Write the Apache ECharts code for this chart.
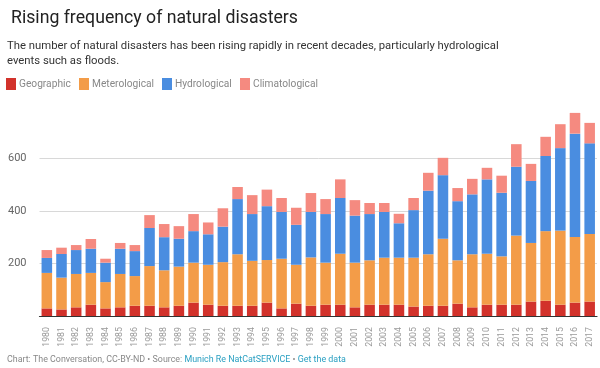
<!DOCTYPE html>
<html><head><meta charset="utf-8">
<script src="https://cdn.jsdelivr.net/npm/echarts@6/dist/echarts.min.js"></script>
<style>html,body{margin:0;padding:0;background:#fff}#c{width:600px;height:368px}</style>
</head><body><div id="c"></div>
<script>
const years = ['1980','1981','1982','1983','1984','1985','1986','1987','1988','1989','1990','1991','1992','1993','1994','1995','1996','1997','1998','1999','2000','2001','2002','2003','2004','2005','2006','2007','2008','2009','2010','2011','2012','2013','2014','2015','2016','2017'];
const geographic = [29,25,33,43,29,33,39,39,33,39,51,43,39,39,39,51,29,47,39,43,43,33,43,43,43,36,39,39,47,33,43,43,43,55,58,43,51,55];
const meteorological = [135,121,127,121,100,127,113,151,141,149,152,152,166,196,171,162,189,148,184,160,194,170,169,179,179,186,196,255,165,202,194,184,263,223,265,282,250,257];
const hydrological = [57,90,91,92,74,96,95,145,126,106,120,116,135,210,178,205,178,152,173,185,212,179,176,174,131,181,242,242,225,228,283,242,262,236,286,314,393,345];
const climatological = [30,24,19,37,15,22,23,49,50,48,65,45,70,46,72,63,53,65,72,57,71,59,42,34,36,46,68,66,50,59,44,65,86,65,73,91,79,78];
const seriesNames = ['Geographic','Meterological','Hydrological','Climatological'];
const seriesColors = ['#d2322b','#f39c48','#4a8de0','#f58a80'];

const chart = echarts.init(document.getElementById('c'));
const FONT = 'Roboto, sans-serif';
function mk(i, data){
  return {name:seriesNames[i], type:'bar', stack:'t', data, barWidth:'72%', itemStyle:{color:seriesColors[i]}, emphasis:{disabled:true}};
}
const legendLeft = [6, 79, 162, 240];
chart.setOption({
  animation:false,
  textStyle:{fontFamily:FONT},
  title:{text:'Rising frequency of natural disasters', left:6, top:5,
    textStyle:{fontSize:17.7, fontWeight:'normal', color:'#222', fontFamily:FONT}},
  legend: seriesNames.map((n,i) => ({left:legendLeft[i], top:78, icon:'rect', itemWidth:10, itemHeight:12, padding:0,
    textStyle:{color:'#888', fontSize:10.2, padding:[0,0,0,-2], fontFamily:FONT}, data:[n]})),
  graphic:[
    {type:'text', left:7, top:38, style:{text:'The number of natural disasters has been rising rapidly in recent decades, particularly hydrological\nevents such as floods.', font:'11.3px Roboto', fill:'#333', lineHeight:15.5}},
    {type:'text', left:7, top:355, style:{text:'{a|Chart: The Conversation, CC-BY-ND • Source: }{b|Munich Re NatCatSERVICE}{a| • }{b|Get the data}',
      rich:{a:{fontSize:8.9, fill:'#888', fontFamily:FONT}, b:{fontSize:8.9, fill:'#2aa0c2', fontFamily:FONT}}}}
  ],
  grid:{left:39.5, right:3, top:105.8, bottom:52},
  xAxis:{type:'category', data:years,
    axisLine:{lineStyle:{color:'#333', width:1.2}}, axisTick:{show:false},
    axisLabel:{rotate:90, color:'#999', fontSize:8.8, margin:11, interval:0}},
  yAxis:{type:'value', min:0, max:800, interval:200,
    axisLine:{show:false}, axisTick:{show:false},
    axisLabel:{color:'#666', fontSize:11, margin:13, formatter:v => (v===0||v===800)?'':String(v)},
    splitLine:{lineStyle:{color:['rgba(0,0,0,0)','#d8d8d8','#d8d8d8','#d8d8d8','rgba(0,0,0,0)'], width:1}}},
  series:[
    mk(0, geographic), mk(1, meteorological), mk(2, hydrological), mk(3, climatological)
  ]
});
</script></body></html>
